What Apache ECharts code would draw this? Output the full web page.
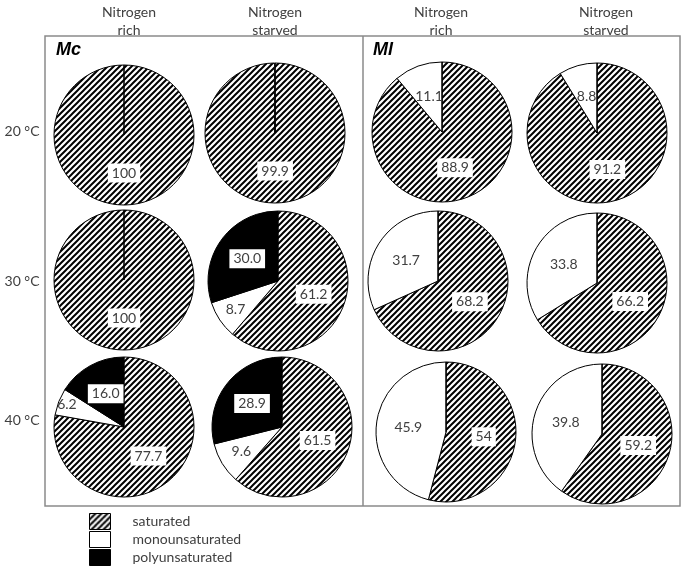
<!DOCTYPE html>
<html>
<head>
<meta charset="utf-8">
<script src="https://cdn.jsdelivr.net/npm/echarts@6/dist/echarts.min.js"></script>
<style>
html,body{margin:0;padding:0;background:#fff;}
#chart{width:685px;height:566px;}
</style>
</head>
<body>
<div id="chart"></div>
<script>
// ---- data ----
const categories = ['saturated', 'monounsaturated', 'polyunsaturated'];
const colHeaders = ['Nitrogen\nrich', 'Nitrogen\nstarved', 'Nitrogen\nrich', 'Nitrogen\nstarved'];
const rowLabels = ['20 °C', '30 °C', '40 °C'];
const panelLabels = ['Mc', 'Ml'];
// pies in row-major order: [Mc rich, Mc starved, Ml rich, Ml starved] for 20, 30, 40 °C
const saturated       = [100, 99.9, 88.9, 91.2, 100, 61.2, 68.2, 66.2, 77.7, 61.5, 54, 59.2];
const monounsaturated = [0, 0.1, 11.1, 8.8, 0, 8.7, 31.7, 33.8, 6.2, 9.6, 45.9, 39.8];
const polyunsaturated = [0, 0, 0, 0, 0, 30.0, 0, 0, 16.0, 28.9, 0, 0];
const saturatedLabels = ['100', '99.9', '88.9', '91.2', '100', '61.2', '68.2', '66.2', '77.7', '61.5', '54', '59.2'];
const monoLabels      = ['', '', '11.1', '8.8', '', '8.7', '31.7', '33.8', '6.2', '9.6', '45.9', '39.8'];
const polyLabels      = ['', '', '', '', '', '30.0', '', '', '16.0', '28.9', '', ''];

// ---- layout ----
const pieCenters = [
  [[124, 135], [275, 133], [442, 132], [597, 133]],
  [[124, 280], [278, 281], [438, 281], [597, 283]],
  [[124, 427], [282, 427], [446, 432], [602, 434]]
];
const headerX = [129, 275, 441, 606];
const rowLabelY = [131, 281, 420];
const FONT = 'Lato, "Noto Sans", sans-serif';
const TXT = '#404040';

function makeHatch() {
  const s = 6;
  const c = document.createElement('canvas');
  c.width = s; c.height = s;
  const ctx = c.getContext('2d');
  ctx.fillStyle = '#fff';
  ctx.fillRect(0, 0, s, s);
  ctx.strokeStyle = '#000';
  ctx.lineWidth = 2;
  ctx.beginPath();
  ctx.moveTo(0, s); ctx.lineTo(s, 0);
  ctx.moveTo(-s / 2, s / 2); ctx.lineTo(s / 2, -s / 2);
  ctx.moveTo(s / 2, 3 * s / 2); ctx.lineTo(3 * s / 2, s / 2);
  ctx.stroke();
  return c;
}
const hatch = { image: makeHatch(), repeat: 'repeat' };
const fills = [hatch, '#ffffff', '#000000'];
const boxedLabel = { backgroundColor: '#fff', padding: [3, 4, 2, 4] };

const series = [];
for (let i = 0; i < saturated.length; i++) {
  const r = Math.floor(i / 4), c = i % 4;
  const vals = [saturated[i], monounsaturated[i], polyunsaturated[i]];
  const labs = [saturatedLabels[i], monoLabels[i], polyLabels[i]];
  const total = vals[0] + vals[1] + vals[2];
  let acc = 0;
  const data = categories.map((name, k) => {
    const pct = vals[k] / total * 100;
    const mid = (acc + pct / 2) / 100 * 2 * Math.PI; // clockwise from 12 o'clock
    acc += pct;
    const label = Object.assign({ show: labs[k] !== '', formatter: labs[k] }, k === 1 ? {} : boxedLabel);
    // in three-part pies, the thin monounsaturated label sits further out (best-fit placement)
    if (k === 1 && vals[2] > 0 && pct < 12) {
      const push = (12 - pct) * 4;
      label.offset = [Math.sin(mid) * push, -Math.cos(mid) * push];
    }
    const itemStyle = { color: fills[k] };
    if (pct < 1) itemStyle.borderWidth = 0.6; // empty / hairline slices: thin radial edge
    return { name: name, value: vals[k], itemStyle: itemStyle, label: label };
  });
  series.push({
    type: 'pie',
    center: pieCenters[r][c],
    radius: 70,
    startAngle: 90,
    clockwise: true,
    avoidLabelOverlap: false,
    silent: true,
    itemStyle: { borderColor: '#000', borderWidth: 1 },
    label: {
      position: 'inside',
      fontFamily: FONT,
      fontSize: 14,
      color: TXT
    },
    labelLine: { show: false },
    emphasis: { disabled: true },
    data: data
  });
}

const graphics = [
  { type: 'rect', shape: { x: 45, y: 36, width: 635, height: 470 },
    style: { fill: 'none', stroke: '#8a8a8a', lineWidth: 1.5 } },
  { type: 'line', shape: { x1: 363, y1: 36, x2: 363, y2: 506 },
    style: { stroke: '#8a8a8a', lineWidth: 1.5 } }
];
colHeaders.forEach((t, i) => graphics.push({
  type: 'text', x: headerX[i], y: 3,
  style: { text: t, fill: TXT, font: '14px ' + FONT, align: 'center', verticalAlign: 'top', lineHeight: 18 }
}));
rowLabels.forEach((t, i) => graphics.push({
  type: 'text', x: 22, y: rowLabelY[i],
  style: { text: t, fill: TXT, font: '14px ' + FONT, align: 'center', verticalAlign: 'middle' }
}));
[56, 373].forEach((x, i) => graphics.push({
  type: 'text', x: x, y: 50,
  style: { text: panelLabels[i], fill: '#000', font: 'italic bold 18px "Liberation Sans", Arial, sans-serif', align: 'left', verticalAlign: 'middle' }
}));

const chart = echarts.init(document.getElementById('chart'), null, { renderer: 'canvas' });
chart.setOption({
  animation: false,
  backgroundColor: '#fff',
  legend: {
    orient: 'vertical',
    left: 89,
    top: 513,
    height: 60,
    padding: 0,
    icon: 'rect',
    itemWidth: 21,
    itemHeight: 16,
    itemGap: 1,
    selectedMode: false,
    data: categories,
    itemStyle: { borderColor: '#000', borderWidth: 1 },
    textStyle: { fontFamily: FONT, fontSize: 14, color: TXT, padding: [0, 0, 0, 17] }
  },
  graphic: graphics,
  series: series
});
</script>
</body>
</html>
